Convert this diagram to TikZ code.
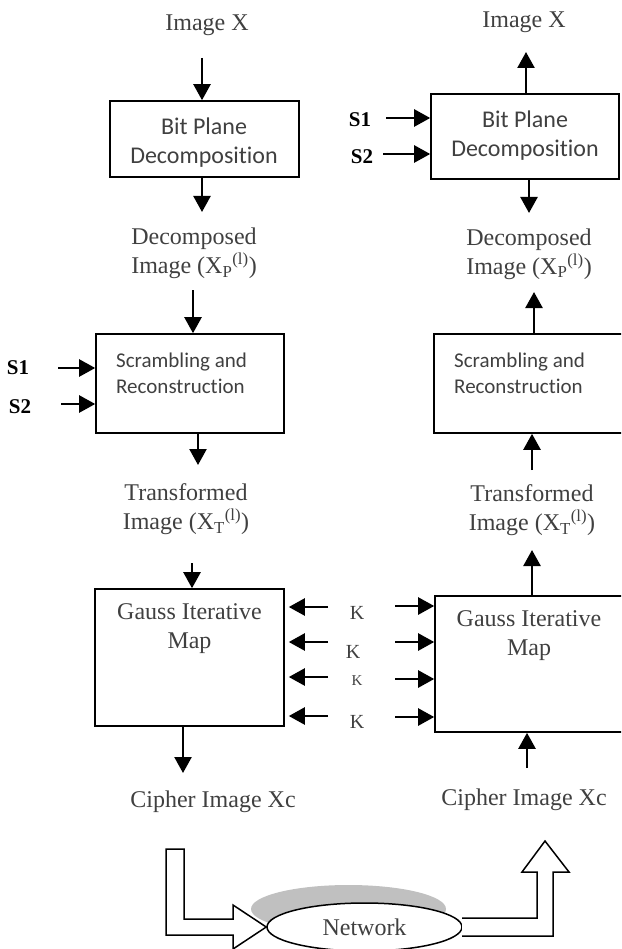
\documentclass[tikz,border=0pt]{standalone}
\usepackage{fontspec}
\setmainfont{Liberation Serif}
\newfontfamily\calibri[Ligatures=NoCommon,Contextuals=NoAlternate]{Carlito}
\usetikzlibrary{arrows.meta,shapes.geometric,shadows}
\definecolor{txtgray}{RGB}{64,64,64}
\definecolor{shd}{RGB}{192,192,192}
\tikzstyle{blk}=[draw, line width=1.6pt, inner sep=0pt]
\tikzstyle{arr}=[line width=2.4pt, -{Triangle[length=16pt,width=17pt]}]
\tikzstyle{lbl}=[text=txtgray, align=center, inner sep=0pt, font=\fontsize{24}{29}\selectfont]
\tikzstyle{bptxt}=[text=txtgray, align=center, inner sep=0pt, font=\calibri\fontsize{24}{29}\selectfont]
\tikzstyle{srtxt}=[text=txtgray, align=left, anchor=west, inner sep=0pt, font=\calibri\fontsize{21}{26}\selectfont]
\tikzstyle{seed}=[inner sep=0pt, font=\bfseries\fontsize{21}{25}\selectfont]
\tikzstyle{kk}=[text=txtgray, inner sep=0pt, font=\fontsize{20}{24}\selectfont]
\tikzstyle{barr}=[draw, line width=1.5pt, fill=white]

\begin{document}
\begin{tikzpicture}[x=1pt,y=-1pt]
\useasboundingbox (0,0) rectangle (621,949);
\clip (0,0) rectangle (621,949);

% encryption side
\node (imgL) [lbl] at (207,25) {Image X};
\node (bpdL) [blk, minimum width=189pt, minimum height=76pt] at (204.5,139) {};
\node (bpdLt) [bptxt] at (204,142.5) {Bit Plane\\Decomposition};
\node (decL) [lbl] at (194,253.5) {Decomposed\\Image (X\textsubscript{P}\textsuperscript{(l)})};
\node (scrL) [blk, minimum width=188pt, minimum height=99pt] at (190,383.5) {};
\node (scrLt) [srtxt] at (116,373) {Scrambling and\\Reconstruction};
\node (s1L) [seed] at (18,368) {S1};
\node (s2L) [seed] at (20,407) {S2};
\node (trL) [lbl] at (186,509) {Transformed\\Image (X\textsubscript{T}\textsuperscript{(l)})};
\node (gauL) [blk, minimum width=189pt, minimum height=137pt] at (189.5,657.5) {};
\node (gauLt) [lbl] at (189.5,629) {Gauss Iterative\\Map};
\node (cipL) [lbl] at (213,802) {Cipher Image Xc};

% decryption side
\node (imgR) [lbl] at (524,22) {Image X};
\node (bpdR) [blk, minimum width=188pt, minimum height=85pt] at (525,136.5) {};
\node (bpdRt) [bptxt] at (525,136) {Bit Plane\\Decomposition};
\node (s1R) [seed] at (360,120) {S1};
\node (s2R) [seed] at (362,157) {S2};
\node (decR) [lbl] at (529,254) {Decomposed\\Image (X\textsubscript{P}\textsuperscript{(l)})};
\node (scrR) [blk, minimum width=190pt, minimum height=99pt] at (529,383.5) {};
\node (scrRt) [srtxt] at (454,373) {Scrambling and\\Reconstruction};
\node (trR) [lbl] at (532,510) {Transformed\\Image (X\textsubscript{T}\textsuperscript{(l)})};
\node (gauR) [blk, minimum width=189pt, minimum height=136pt] at (529.5,664) {};
\node (gauRt) [lbl] at (529,636) {Gauss Iterative\\Map};
\node (cipR) [lbl] at (524,800) {Cipher Image Xc};

% keys
\node (k1) [kk] at (357,613) {K};
\node (k2) [kk] at (353,652) {K};
\node (k3) [kk, font=\fontsize{15}{18}\selectfont] at (357,681) {K};
\node (k4) [kk] at (357,722) {K};

% left arrows
\coordinate (iL) at (202,58);
\coordinate (dL) at (202,212);
\coordinate (d2L) at (193,290);
\coordinate (tL) at (198,465);
\coordinate (t2L) at (192,563);
\coordinate (cL) at (183,773);
\coordinate (a1L) at (58,368);
\coordinate (a2L) at (61,404);
\draw[arr] (iL) -- (iL |- bpdL.north);
\draw[arr] (bpdL.south -| dL) -- (dL);
\draw[arr] (d2L) -- (d2L |- scrL.north);
\draw[arr] (a1L) -- (a1L -| scrL.west);
\draw[arr] (a2L) -- (a2L -| scrL.west);
\draw[arr] (scrL.south -| tL) -- (tL);
\draw[arr] (t2L) -- (t2L |- gauL.north);
\draw[arr] (gauL.south -| cL) -- (cL);
\foreach \y/\n in {607/1,642/2,677/3,716/4}{
  \coordinate (kl\n) at (328,\y);
  \draw[arr, shorten >=4pt] (kl\n) -- (kl\n -| gauL.east);
}

% right arrows
\coordinate (iR) at (526,52);
\coordinate (a1R) at (386,118);
\coordinate (a2R) at (383,154);
\coordinate (dR) at (529,213);
\coordinate (d2R) at (534,292);
\coordinate (tR) at (532,470);
\coordinate (t2R) at (532,550);
\coordinate (cR) at (527,768);
\draw[arr] (bpdR.north -| iR) -- (iR);
\draw[arr] (a1R) -- (a1R -| bpdR.west);
\draw[arr] (a2R) -- (a2R -| bpdR.west);
\draw[arr] (bpdR.south -| dR) -- (dR);
\draw[arr] (scrR.north -| d2R) -- (d2R);
\draw[arr] (tR) -- (tR |- scrR.south);
\draw[arr] (gauR.north -| t2R) -- (t2R);
\draw[arr] (cR) -- (cR |- gauR.south);
\foreach \y/\n in {606/1,642/2,679/3,717/4}{
  \coordinate (kr\n) at (395,\y);
  \draw[arr] (kr\n) -- (kr\n -| gauR.west);
}

% network
\node (net) [ellipse, draw, line width=1.5pt, fill=white, lbl, minimum width=195pt, minimum height=48pt,
  general shadow={fill=shd, shadow xshift=-16pt, shadow yshift=18pt}] at (364.5,927) {Network};
\draw[barr] (166,849) -- (184,849) -- (184,919) -- (233,919) -- (233,905) -- (net.west)
  -- (233,949) -- (233,935) -- (166,935) -- cycle;
\draw[barr] (462,918) -- (537,918) -- (537,872) -- (522,872) -- (545,841) -- (569,872)
  -- (553,872) -- (553,936) -- (462,936);
\end{tikzpicture}
\end{document}
